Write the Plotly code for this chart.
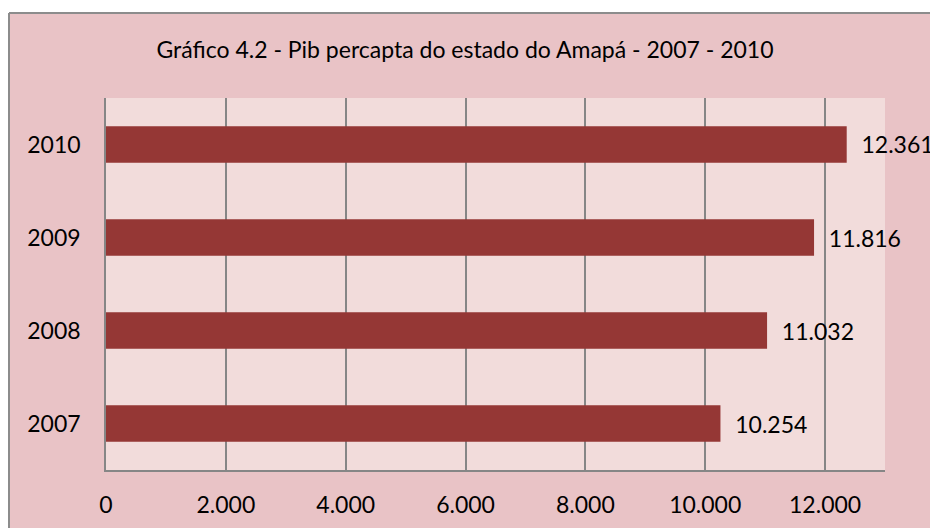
import plotly.graph_objects as go

years = ["2007", "2008", "2009", "2010"]
pib = [10254, 11032, 11816, 12361]
tick_vals = [0, 2000, 4000, 6000, 8000, 10000, 12000]
tick_text = ["0", "2.000", "4.000", "6.000", "8.000", "10.000", "12.000"]
title_text = "Gráfico 4.2 - Pib percapta do estado do Amapá - 2007 - 2010"

FONT = "Lato"
FS = 23
OFF = 8  # default page body margin
NB = "\u00a0"

labels = [NB * 2 + f"{v:,}".replace(",", ".") for v in pib]

fig = go.Figure()
fig.add_trace(go.Bar(
    y=years, x=pib, orientation="h",
    marker=dict(color="#953735", line=dict(width=0)),
    width=0.39, hoverinfo="skip",
    text=labels, textposition="outside", constraintext="none",
    cliponaxis=False,
    textfont=dict(family=FONT, size=FS, color="#000000"),
))

W, H = 938, 528
L, R, T, B = 106 - OFF, 885 - OFF, 98 - OFF, 470 - OFF
pw, ph = R - L, B - T
frame_x, frame_y = 9 - OFF, 13 - OFF
# white page outside the chart frame (top and left strips)
fig.add_shape(type="rect", xref="paper", yref="paper",
              x0=(-5 - L) / pw, x1=(W + 5 - L) / pw,
              y0=(B - frame_y) / ph, y1=(B + 5) / ph,
              fillcolor="#ffffff", line=dict(width=0), layer="below")
fig.add_shape(type="rect", xref="paper", yref="paper",
              x0=(-5 - L) / pw, x1=(frame_x - L) / pw,
              y0=(B - H - 5) / ph, y1=(B + 5) / ph,
              fillcolor="#ffffff", line=dict(width=0), layer="below")
# frame border
fig.add_shape(type="line", xref="paper", yref="paper",
              x0=(frame_x - L) / pw, x1=(W + 5 - L) / pw,
              y0=(B - frame_y) / ph, y1=(B - frame_y) / ph,
              line=dict(color="#8c8c8c", width=2), layer="below")
fig.add_shape(type="line", xref="paper", yref="paper",
              x0=(frame_x - L) / pw, x1=(frame_x - L) / pw,
              y0=(B - frame_y) / ph, y1=(B - H - 5) / ph,
              line=dict(color="#8c8c8c", width=2), layer="below")

fig.update_layout(
    width=W, height=H,
    margin=dict(l=L, r=W - R, t=T, b=H - B),
    paper_bgcolor="#e9c3c6",
    plot_bgcolor="#f2dcdb",
    showlegend=False,
    title=dict(text=title_text, x=(465 - OFF) / W, xanchor="center",
               y=1 - (50 - OFF) / H, yanchor="middle",
               font=dict(family=FONT, size=FS, color="#000000")),
    xaxis=dict(range=[0, 13000], tickvals=tick_vals, ticktext=tick_text,
               showgrid=True, gridcolor="#868686", gridwidth=1.5,
               showline=True, linecolor="#868686", linewidth=1.5,
               ticks="", ticklabelstandoff=14, zeroline=False,
               tickfont=dict(family=FONT, size=FS, color="#000000"),
               fixedrange=True),
    yaxis=dict(type="category", categoryorder="array", categoryarray=years,
               range=[-0.5, 3.5],
               showgrid=False, showline=True, linecolor="#868686", linewidth=1.5,
               ticks="", ticklabelstandoff=19,
               tickfont=dict(family=FONT, size=FS, color="#000000"),
               fixedrange=True),
)

fig.write_html("out.html")
